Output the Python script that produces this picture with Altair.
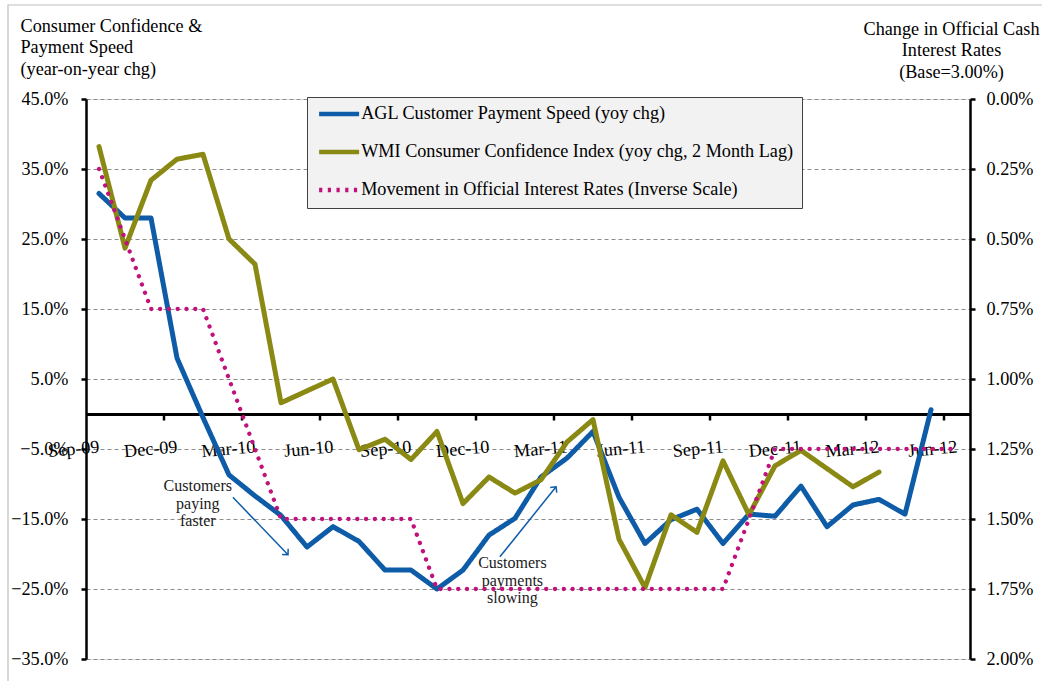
import math
import altair as alt
import pandas as pd

FONT = "Liberation Serif"
FS = 18.2

months = ["Sep-09", "Oct-09", "Nov-09", "Dec-09", "Jan-10", "Feb-10", "Mar-10", "Apr-10",
          "May-10", "Jun-10", "Jul-10", "Aug-10", "Sep-10", "Oct-10", "Nov-10", "Dec-10",
          "Jan-11", "Feb-11", "Mar-11", "Apr-11", "May-11", "Jun-11", "Jul-11", "Aug-11",
          "Sep-11", "Oct-11", "Nov-11", "Dec-11", "Jan-12", "Feb-12", "Mar-12", "Apr-12",
          "May-12", "Jun-12"]

# AGL Customer Payment Speed (yoy chg, %), Sep-09 .. May-12
agl_speed = [31.5, 28.0, 28.0, 8.0, -0.5, -8.7, -11.7, -14.5, -19.0, -16.1, -18.2, -22.3,
             -22.3, -25.0, -22.3, -17.3, -14.9, -9.0, -6.3, -2.5, -11.9, -18.5, -15.1, -13.6,
             -18.5, -14.3, -14.6, -10.3, -16.1, -13.0, -12.2, -14.3, 0.6]

# WMI Consumer Confidence Index (yoy chg, 2 month lag, %), Sep-09 .. Mar-12
wmi_conf = [38.2, 23.7, 33.4, 36.4, 37.1, 25.0, 21.4, 1.6, 3.3, 5.0, -5.1, -3.6,
            -6.5, -2.5, -12.8, -9.0, -11.3, -9.4, -4.0, -0.8, -17.9, -24.8, -14.4, -16.9,
            -6.7, -14.4, -7.4, -5.2, -7.8, -10.4, -8.3]

# Change in official cash rate from 3.00% base (%), Sep-09 .. Jun-12
rate_change = [0.25, 0.50, 0.75, 0.75, 0.75, 1.00, 1.25, 1.50, 1.50, 1.50, 1.50, 1.50,
               1.50, 1.75, 1.75, 1.75, 1.75, 1.75, 1.75, 1.75, 1.75, 1.75, 1.75, 1.75,
               1.75, 1.50, 1.25, 1.25, 1.25, 1.25, 1.25, 1.25, 1.25, 1.25]

series_names = ["AGL Customer Payment Speed (yoy chg)",
                "WMI Consumer Confidence Index (yoy chg, 2 Month Lag)",
                "Movement in Official Interest Rates (Inverse Scale)"]
series_colors = ["#0E5CA8", "#898913", "#C0127A"]
series_dash = [[1, 0], [1, 0], [3.2, 5.5]]

left_ticks = [-35, -25, -15, -5, 5, 15, 25, 35, 45]
right_ticks = [0.0, 0.25, 0.5, 0.75, 1.0, 1.25, 1.5, 1.75, 2.0]
label_months = [0, 3, 6, 9, 12, 15, 18, 21, 24, 27, 30, 33]
tick_bounds = [2.5, 5.5, 8.5, 11.5, 14.5, 17.5, 20.5, 23.5, 26.5, 29.5, 32.5]

notes_text = ["Customers\npaying\nfaster", "Customers\npayments\nslowing"]
notes_i = [3.8, 15.9]
notes_v = [-10.3, -21.3]
arrow_i = [5.15, 15.42]
arrow_v = [-11.9, -20.4]
arrow_i2 = [7.27, 17.58]
arrow_v2 = [-20.1, -10.4]

W, H = 884, 560
px_x = W / 34.0
px_y = H / 80.0
tick_len = 6.5 / px_y

rows = []
for i, v in enumerate(agl_speed):
    rows.append({"i": i, "v": v, "series": series_names[0]})
for i, v in enumerate(wmi_conf):
    rows.append({"i": i, "v": v, "series": series_names[1]})
left_df = pd.DataFrame(rows)
rate_df = pd.DataFrame({"i": list(range(len(rate_change))), "r": rate_change,
                        "series": series_names[2]})
tick_df = pd.DataFrame({"i": tick_bounds, "v": [0.0] * len(tick_bounds),
                        "v2": [-tick_len] * len(tick_bounds)})
notes_df = pd.DataFrame({"i": notes_i, "v": notes_v, "t": notes_text})
angles = []
for a, b, c, d in zip(arrow_i, arrow_v, arrow_i2, arrow_v2):
    dxs = (c - a) * px_x
    dys = -(d - b) * px_y
    angles.append(math.degrees(math.atan2(dxs, -dys)) % 360)
arrow_df = pd.DataFrame({"i": arrow_i, "v": arrow_v, "i2": arrow_i2, "v2": arrow_v2, "ang": angles})
frame_df = pd.DataFrame({"k": [0]})

month_js = "[" + ",".join("'" + m + "'" for m in months) + "]"

x_scale = alt.Scale(domain=[-0.5, 33.5], nice=False, zero=False)
x_axis = alt.Axis(values=label_months, labelExpr=month_js + "[datum.value]",
                  offset=-245, ticks=False, tickSize=0, grid=False,
                  domainColor="black", domainWidth=3,
                  labelAngle=355, labelAlign="right", labelBaseline="middle",
                  labelPadding=33, labelFont=FONT, labelFontSize=FS, labelColor="black",
                  labelOverlap=False, labelFlush=False, title=None)

y_scale = alt.Scale(domain=[-35, 45], nice=False, zero=False)
y_axis = alt.Axis(orient="left", values=left_ticks,
                  labelExpr="format(datum.value, '.1f') + '%'",
                  grid=True, gridDash=[4, 3], gridColor="#8C8C8C", gridWidth=1,
                  tickSize=5, tickWidth=2.5, tickColor="black",
                  domainColor="black", domainWidth=2.5,
                  labelPadding=13, labelFont=FONT, labelFontSize=FS, labelColor="black",
                  title=["Consumer Confidence &", "Payment Speed", "(year-on-year chg)"],
                  titleAngle=0, titleAlign="left", titleBaseline="top",
                  titleX=-66, titleY=-82, titleFont=FONT, titleFontSize=FS,
                  titleFontWeight="normal", titleColor="black", titleLineHeight=21.5)

r_scale = alt.Scale(domain=[0, 2], nice=False, zero=False, reverse=True)
r_axis = alt.Axis(orient="right", values=right_ticks,
                  labelExpr="format(datum.value, '.2f') + '%'",
                  grid=False, tickSize=5, tickWidth=2.5, tickColor="black",
                  domainColor="black", domainWidth=2.5,
                  labelPadding=11, labelFont=FONT, labelFontSize=FS, labelColor="black",
                  title=["Change in Official Cash", "Interest Rates", "(Base=3.00%)"],
                  titleAngle=0, titleAlign="center", titleBaseline="top",
                  titleX=-19, titleY=-79, titleFont=FONT, titleFontSize=FS,
                  titleFontWeight="normal", titleColor="black", titleLineHeight=21.5)

legend = alt.Legend(title=None, orient="none", legendX=221, legendY=-2, direction="vertical",
                    fillColor="#F2F2F2", strokeColor="#404040", padding=8, rowPadding=18,
                    symbolType="M-1,0L7,0", symbolSize=100, symbolStrokeWidth=4.5,
                    labelOffset=28, labelFont=FONT, labelFontSize=FS, labelColor="black",
                    labelLimit=0)

color_enc = alt.Color("series:N", scale=alt.Scale(domain=series_names, range=series_colors),
                      legend=legend)
dash_enc = alt.StrokeDash("series:N", scale=alt.Scale(domain=series_names, range=series_dash),
                          legend=legend)

X = alt.X("i:Q", scale=x_scale, axis=x_axis)
Y = alt.Y("v:Q", scale=y_scale, axis=y_axis)

frame = alt.Chart(frame_df).mark_rect(fillOpacity=0, stroke="#BFBFBF", strokeWidth=1.2).encode(
    x=alt.value(-78), x2=alt.value(990), y=alt.value(-94), y2=alt.value(640))

lines = alt.Chart(left_df).mark_line(strokeWidth=5, strokeCap="round", strokeJoin="round").encode(
    x=X, y=Y, color=color_enc, strokeDash=dash_enc, order="i:Q")

ticks = alt.Chart(tick_df).mark_rule(strokeWidth=2.5, color="#000000", opacity=1).encode(
    x=X, y=Y, y2="v2:Q")

notes = alt.Chart(notes_df).mark_text(font=FONT, fontSize=16, lineBreak="\n", lineHeight=17.5,
                                      align="center", baseline="middle", color="#1A1A1A").encode(
    x=X, y=Y, text="t:N")

arrows = alt.Chart(arrow_df).mark_rule(color="#0E5CA8", strokeWidth=1.5).encode(
    x=X, y=Y, x2="i2:Q", y2="v2:Q")

heads = alt.Chart(arrow_df).mark_point(shape="M-1,1L0,0L1,1", filled=False, size=70,
                                       strokeWidth=1.5, color="#0E5CA8", opacity=1).encode(
    x=alt.X("i2:Q", scale=x_scale, axis=x_axis),
    y=alt.Y("v2:Q", scale=y_scale, axis=y_axis),
    angle=alt.Angle("ang:Q", scale=None))

left_layer = alt.layer(frame, arrows, heads, notes, lines, ticks)

rates = alt.Chart(rate_df).mark_line(strokeWidth=4.3, strokeCap="round",
                                     strokeDash=[0.1, 8.7]).encode(
    x=X, y=alt.Y("r:Q", scale=r_scale, axis=r_axis),
    color=color_enc, order="i:Q")

chart = alt.layer(left_layer, rates).resolve_scale(y="independent").properties(
    width=W, height=H,
    autosize=alt.AutoSizeParams(type="none"),
    padding={"left": 86, "top": 99, "right": 72, "bottom": 22},
    background="white",
).configure_view(strokeOpacity=0).configure(font=FONT)

chart.save("out.html", embed_options={"renderer": "svg", "actions": False})
